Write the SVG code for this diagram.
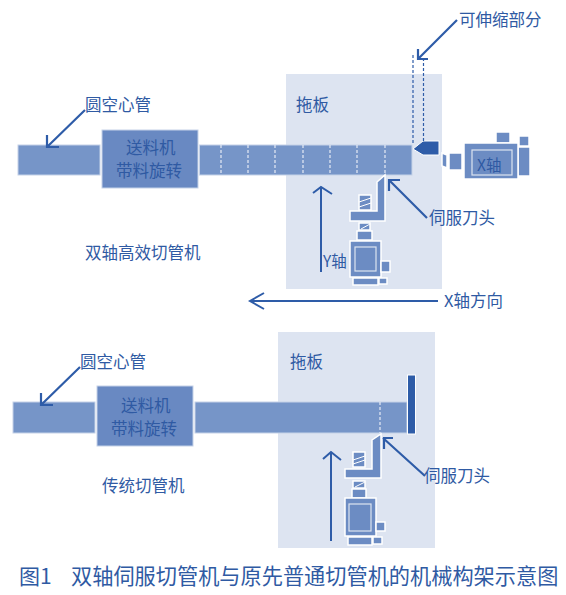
<svg xmlns="http://www.w3.org/2000/svg" width="566" height="595" viewBox="0 0 566 595">
<style>
text{font-family:"Noto Sans CJK SC","Noto Sans",sans-serif;fill:#2f5aa3;font-size:16.500px}
.plate{fill:#dde4f1}
.tube{fill:#7695c8;stroke:#c5d2e8;stroke-width:1}
.feed{fill:#6989c2;stroke:#c5d2e8;stroke-width:1}
.part{fill:#6c8cc3;stroke:#fff;stroke-width:1.5}
.inner{fill:none;stroke:#dde4f1;stroke-width:1.2}
.dash{stroke:#e6ecf6;stroke-width:1.2;stroke-dasharray:3 2;fill:none}
.dark{fill:#2e5ca8;stroke:#fff;stroke-width:1}
.ln{fill:none;stroke:#2e5ca8;stroke-width:2}
.ar{fill:none;stroke:#2e5ca8;stroke-width:2.2}
.dd{fill:none;stroke:#2e5ca8;stroke-width:1.2;stroke-dasharray:3 2}
.hatch{stroke:#fff;stroke-width:1;fill:none}
</style>
<rect class="plate" x="286" y="74" width="156" height="215"/>
<rect class="plate" x="278" y="332" width="157" height="216"/>
<g id="top-tube-left"><rect class="tube" x="18" y="145" width="82" height="30"/></g>
<g id="top-feeder"><rect class="feed" x="102" y="130" width="96" height="58"/><text x="126" y="154">送料机</text><text x="116" y="177">带料旋转</text></g>
<g id="top-tube-right"><rect class="tube" x="199.500" y="145" width="212.500" height="30"/>
<path class="dash" d="M221 145V175M248 145V175M275 145V175M303 145V175M330 145V175M357 145V175M385 145V175"/></g>
<g id="top-nozzle"><path class="dark" d="M413 149L423 141H439V155H423Z"/></g>
<g id="top-head">
<rect class="part" x="359" y="195" width="12" height="15"/><path class="hatch" d="M359 202L371 198M359 207L371 203"/>
<path class="part" d="M377 182L385 175V221H350V211H377Z"/>
<rect class="part" x="359" y="223" width="11" height="7"/><path class="hatch" d="M361 229L370 224"/>
<rect class="part" x="357" y="231" width="15" height="9"/>
<rect class="part" x="350" y="241" width="31" height="36"/><rect class="inner" x="355" y="247" width="21" height="24"/>
<rect class="part" x="381" y="261" width="9" height="11"/>
<rect class="part" x="353" y="278" width="25" height="7"/><rect class="part" x="379" y="278" width="8" height="6"/>
</g>
<g id="x-motor">
<path class="part" d="M442 153L447 155V168L442 166Z"/>
<rect class="part" x="449" y="153" width="13" height="17"/>
<rect class="part" x="496" y="132" width="14" height="11"/>
<rect class="part" x="519" y="136" width="10" height="10"/>
<rect class="part" x="518" y="147" width="12" height="29"/>
<rect class="part" x="464" y="143" width="54" height="36"/>
<rect class="inner" x="472" y="150" width="40" height="25"/>
<text x="477" y="171" style="font-size:15.500px">X轴</text>
</g>
<g id="bottom-tube-left"><rect class="tube" x="13" y="402" width="82" height="31"/></g>
<g id="bottom-feeder"><rect class="feed" x="97" y="386" width="96" height="60"/><text x="121" y="412">送料机</text><text x="111" y="435">带料旋转</text></g>
<g id="bottom-tube-right"><rect class="tube" x="195" y="402" width="212" height="31"/><path class="dash" d="M380 402V433"/></g>
<g id="bottom-bar"><rect class="dark" x="407.500" y="375" width="8" height="59"/></g>
<g id="bottom-head">
<rect class="part" x="353" y="452" width="12" height="15"/><path class="hatch" d="M353 460L365 456M353 464L365 460"/>
<path class="part" d="M372 440L381 434V478H345V469H372Z"/>
<rect class="part" x="353" y="481" width="12" height="7"/><path class="hatch" d="M355 487L365 482"/>
<rect class="part" x="352" y="489" width="14" height="9"/>
<rect class="part" x="345" y="498" width="31" height="38"/><rect class="inner" x="349" y="504" width="22" height="27"/>
<rect class="part" x="376" y="522" width="9" height="9"/>
<rect class="part" x="348" y="537" width="24" height="8"/><rect class="part" x="373" y="537" width="9" height="7"/>
</g>
<g id="connectors">
<path class="ar" d="M85 110L47 147M47 135V147H59"/>
<path class="dd" d="M413 55V145M423.500 58V145"/>
<path class="ar" d="M457 20L418 59M418 49V59H428"/>
<path class="ln" d="M321 272V187M313 193L321 187L332 194"/>
<path class="ar" d="M427 218L389 180M389 191V180H400"/>
<path class="ln" d="M438 301H250M264 293L250 301L264 309"/>
<path class="ar" d="M80 367L41 405M41 393V405H53"/>
<path class="ln" d="M331 541V452M323 459L331 452L341 460"/>
<path class="ar" d="M425 476L383 438M384 449V438H393"/>
</g>
<g id="labels">
<text x="459" y="26">可伸缩部分</text>
<text x="296" y="111">拖板</text>
<text x="85" y="111">圆空心管</text>
<text x="429" y="224">伺服刀头</text>
<text x="323" y="267" style="font-size:15.500px">Y轴</text>
<text x="85" y="259">双轴高效切管机</text>
<text x="444" y="307">X轴方向</text>
<text x="290" y="368">拖板</text>
<text x="80" y="368">圆空心管</text>
<text x="424" y="482">伺服刀头</text>
<text x="102" y="492">传统切管机</text>
<text x="19" y="584" style="font-size:21px;font-family:'Noto Sans CJK SC',serif">图1</text>
<text x="71" y="584" style="font-size:21.200px">双轴伺服切管机与原先普通切管机的机械构架示意图</text>
</g>
</svg>
